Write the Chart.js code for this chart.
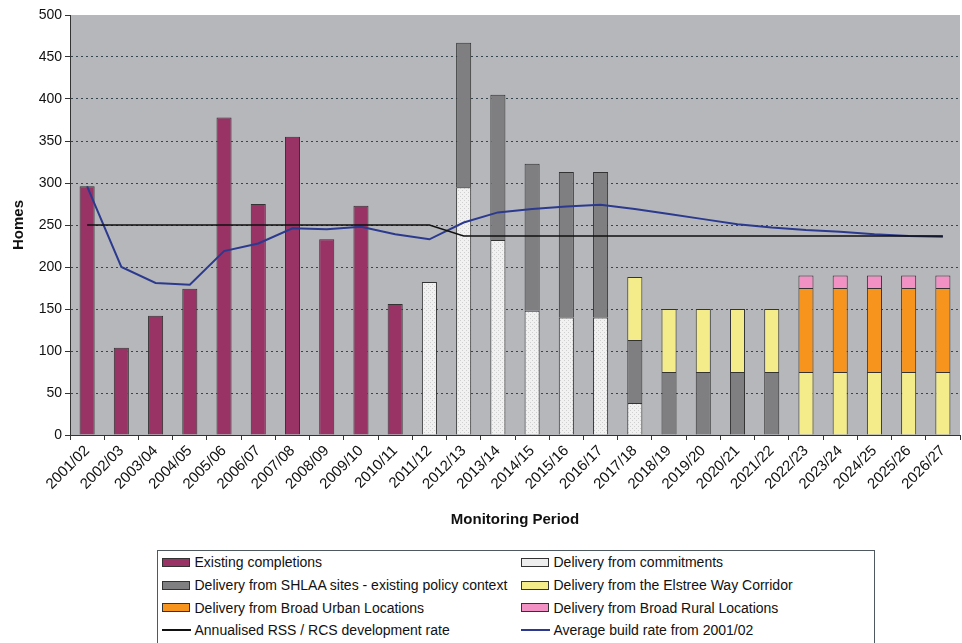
<!DOCTYPE html>
<html>
<head>
<meta charset="utf-8">
<script src="https://cdn.jsdelivr.net/npm/chart.js@4.4.1/dist/chart.umd.min.js"></script>
<style>
    html, body { margin: 0; padding: 0; background: #fff; }
    #wrap { position: relative; width: 962px; height: 643px; overflow: hidden; font-family: "Liberation Sans", Arial, sans-serif; }
    #chart { position: absolute; left: 0; top: 0; }
    #legend {
        position: absolute; left: 157px; top: 550px; width: 718px; height: 110px;
        border: 1.5px solid #4f5a60; background: #fff;
        display: grid; grid-template-columns: 359px 1fr; grid-auto-rows: 22.7px;
        padding-left: 3.5px; box-sizing: border-box;
    }
    .item { display: flex; align-items: center; font-size: 14px; color: #111; white-space: nowrap; }
    .box { width: 26px; height: 7px; border: 1.5px solid #333; margin-right: 5px; flex: none; }
    .line { width: 29px; height: 2px; margin-right: 4px; flex: none; }
</style>
</head>
<body>
<div id="wrap">
    <canvas id="chart" width="962" height="540"></canvas>
    <div id="legend"></div>
</div>
<script>
// ── Data ─────────────────────────────────────────────────────────────────
const periods = ['2001/02', '2002/03', '2003/04', '2004/05', '2005/06', '2006/07', '2007/08',
    '2008/09', '2009/10', '2010/11', '2011/12', '2012/13', '2013/14', '2014/15', '2015/16',
    '2016/17', '2017/18', '2018/19', '2019/20', '2020/21', '2021/22', '2022/23', '2023/24',
    '2024/25', '2025/26', '2026/27'];

const existingCompletions = [296, 104, 142, 174, 378, 275, 355, 233, 273, 156,
    null, null, null, null, null, null, null, null, null, null, null, null, null, null, null, null];
const commitments = [null, null, null, null, null, null, null, null, null, null,
    182, 295, 232, 148, 140, 140, 38, null, null, null, null, null, null, null, null, null];
const shlaaSites = [null, null, null, null, null, null, null, null, null, null,
    null, 172, 173, 175, 173, 173, 75, 75, 75, 75, 75, null, null, null, null, null];
const elstreeWay = [null, null, null, null, null, null, null, null, null, null,
    null, null, null, null, null, null, 75, 75, 75, 75, 75, 75, 75, 75, 75, 75];
const broadUrban = [null, null, null, null, null, null, null, null, null, null,
    null, null, null, null, null, null, null, null, null, null, null, 100, 100, 100, 100, 100];
const broadRural = [null, null, null, null, null, null, null, null, null, null,
    null, null, null, null, null, null, null, null, null, null, null, 15, 15, 15, 15, 15];
const rssRate = [250, 250, 250, 250, 250, 250, 250, 250, 250, 250, 250,
    237, 237, 237, 237, 237, 237, 237, 237, 237, 237, 237, 237, 237, 237, 237];
const avgBuildRate = [296, 200, 181, 179, 219, 228, 246, 245, 248, 239, 233, 253, 265,
    269, 272, 274, 269, 263, 257, 251, 247, 244, 242, 239, 237, 236];

const FONT = '"Liberation Sans", Arial, sans-serif';

// stippled fill for the commitments bars
function stipple() {
    const c = document.createElement('canvas');
    c.width = 4; c.height = 4;
    const g = c.getContext('2d');
    g.fillStyle = '#f1f1f1'; g.fillRect(0, 0, 4, 4);
    g.fillStyle = '#cfcfcf'; g.fillRect(0, 0, 1, 1); g.fillRect(2, 2, 1, 1);
    return g.createPattern(c, 'repeat');
}

function bar(label, data, color, swatch) {
    return { type: 'bar', label, data, backgroundColor: color, swatch: swatch || color,
        borderColor: '#333', borderWidth: 1, stack: 'homes', order: 1,
        categoryPercentage: 1, barPercentage: 0.44 };
}
function line(label, data, color, width, stackKey) {
    return { type: 'line', label, data, borderColor: color, backgroundColor: color,
        borderWidth: width, pointRadius: 0, tension: 0, fill: false, stack: stackKey, order: 0 };
}

const datasets = [
    bar('Existing completions', existingCompletions, '#993366'),
    bar('Delivery from commitments', commitments, stipple(), '#eeeeee'),
    bar('Delivery from SHLAA sites - existing policy context', shlaaSites, '#7f7f82'),
    bar('Delivery from the Elstree Way Corridor', elstreeWay, '#f4ec8a'),
    bar('Delivery from Broad Urban Locations', broadUrban, '#f7941e'),
    bar('Delivery from Broad Rural Locations', broadRural, '#f291c4'),
    line('Annualised RSS / RCS development rate', rssRate, '#111111', 1.5, 'rss'),
    line('Average build rate from 2001/02', avgBuildRate, '#2b3a8f', 2, 'avg')
];

// ── Plot background ──────────────────────────────────────────────────────
const plotBg = {
    id: 'plotBg',
    beforeDraw(chart) {
        const { ctx, chartArea: a } = chart;
        ctx.save();
        ctx.fillStyle = '#b6b7ba';
        ctx.fillRect(a.left, a.top, a.right - a.left, a.bottom - a.top);
        ctx.restore();
    }
};

// ── Chart ────────────────────────────────────────────────────────────────
const chart = new Chart(document.getElementById('chart').getContext('2d'), {
    data: { labels: periods, datasets },
    plugins: [plotBg],
    options: {
        responsive: false,
        animation: false,
        layout: { padding: { top: 15, right: 2, left: 6, bottom: 0 } },
        plugins: { legend: { display: false }, tooltip: { enabled: false } },
        scales: {
            x: {
                stacked: true,
                offset: true,
                grid: { display: true, offset: true, drawOnChartArea: false, drawTicks: true, tickLength: 5, color: '#333' },
                border: { color: '#333', width: 1 },
                ticks: { autoSkip: false, minRotation: 45, maxRotation: 45, padding: 2, color: '#111', font: { family: FONT, size: 15 } },
                title: { display: true, text: 'Monitoring Period', color: '#111', padding: { top: 4, bottom: 11 },
                    font: { family: FONT, size: 15, weight: 'bold' } },
                afterFit: s => { s.height = 105; }
            },
            y: {
                stacked: true,
                min: 0, max: 500,
                ticks: { stepSize: 50, padding: 3, color: '#111', font: { family: FONT, size: 14 } },
                grid: {
                    color: c => (c.tick && (c.tick.value === 0 || c.tick.value === 500)) ? 'rgba(0,0,0,0)' : '#34454d',
                    tickColor: '#333', tickLength: 5, lineWidth: 1
                },
                border: { color: '#333', width: 1, dash: [2, 3] },
                title: { display: true, text: 'Homes', color: '#111', padding: { top: 4, bottom: 4 },
                    font: { family: FONT, size: 15, weight: 'bold' } },
                afterFit: s => { s.width = 64; }
            }
        }
    }
});

// ── Legend (two columns, boxed) ──────────────────────────────────────────
const legendEl = document.getElementById('legend');
chart.data.datasets.forEach(ds => {
    const item = document.createElement('div');
    item.className = 'item';
    const mark = document.createElement('span');
    if (ds.type === 'line') {
        mark.className = 'line';
        mark.style.background = ds.borderColor;
    } else {
        mark.className = 'box';
        mark.style.background = ds.swatch;
    }
    const txt = document.createElement('span');
    txt.textContent = ds.label;
    item.appendChild(mark);
    item.appendChild(txt);
    legendEl.appendChild(item);
});
</script>
</body>
</html>
